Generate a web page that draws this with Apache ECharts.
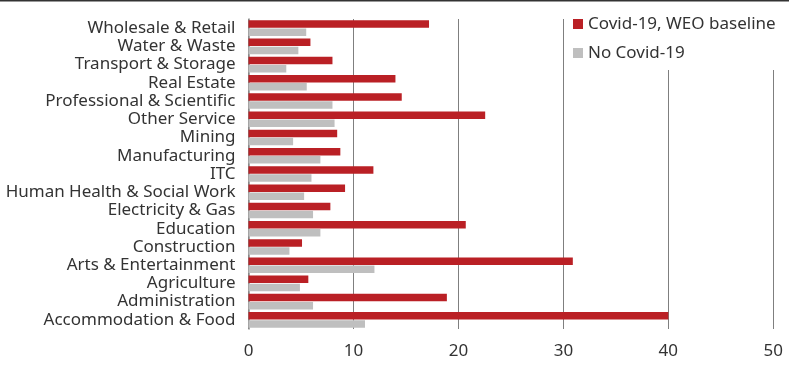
<!DOCTYPE html>
<html>
<head>
<meta charset="utf-8">
<script src="https://cdn.jsdelivr.net/npm/echarts@6/dist/echarts.min.js"></script>
<style>html,body{margin:0;padding:0;background:#fff;}#c{width:789px;height:367px;}</style>
</head>
<body>
<div id="c"></div>
<script>
const categories = ['Accommodation & Food','Administration','Agriculture','Arts & Entertainment','Construction','Education','Electricity & Gas','Human Health & Social Work','ITC','Manufacturing','Mining','Other Service','Professional & Scientific','Real Estate','Transport & Storage','Water & Waste','Wholesale & Retail'];
const covidValues = [40.0, 18.9, 5.7, 30.9, 5.1, 20.7, 7.8, 9.2, 11.9, 8.75, 8.45, 22.55, 14.6, 14.0, 8.0, 5.9, 17.2];
const noCovidValues = [11.1, 6.15, 4.9, 12.0, 3.9, 6.85, 6.15, 5.3, 6.0, 6.85, 4.25, 8.2, 8.0, 5.55, 3.6, 4.75, 5.5];
const xTicks = [0, 10, 20, 30, 40, 50];
const seriesNames = ['Covid-19, WEO baseline', 'No Covid-19'];

const chart = echarts.init(document.getElementById('c'), null, {renderer: 'canvas'});
const font = "'Noto Sans', sans-serif";
chart.setOption({
  animation: false,
  backgroundColor: '#fff',
  textStyle: {fontFamily: font},
  grid: {left: 248.5, right: 15.7, top: 19, bottom: 38, containLabel: false},
  graphic: [{type: 'rect', shape: {x: 0, y: 0, width: 789, height: 1.6}, style: {fill: '#333'}, z: 100}],
  legend: {
    data: seriesNames,
    orient: 'vertical',
    left: 565,
    top: 6,
    padding: [8, 30, 7, 8],
    backgroundColor: '#fff',
    itemWidth: 10,
    itemHeight: 10,
    itemGap: 9,
    icon: 'rect',
    z: 10,
    textStyle: {fontFamily: font, fontSize: 17, color: '#333', lineHeight: 20, padding: [0, 0, 0, 0]}
  },
  xAxis: {
    type: 'value',
    min: xTicks[0],
    max: xTicks[xTicks.length - 1],
    interval: 10,
    axisLine: {show: false},
    axisTick: {show: false},
    splitLine: {show: true, lineStyle: {color: '#7f7f7f', width: 1}},
    axisLabel: {fontFamily: font, fontSize: 17, color: '#333', margin: 14}
  },
  yAxis: {
    type: 'category',
    data: categories,
    axisLine: {show: true, lineStyle: {color: '#8c8c8c', width: 1.5}},
    axisTick: {show: false},
    axisLabel: {fontFamily: font, fontSize: 17, color: '#333', margin: 13, interval: 0}
  },
  series: [
    {name: seriesNames[0], type: 'bar', data: covidValues, barWidth: 7.5, barGap: '8%', itemStyle: {color: '#ba2025'}},
    {name: seriesNames[1], type: 'bar', data: noCovidValues, barWidth: 7.5, barGap: '8%', itemStyle: {color: '#bfbfbf'}}
  ]
});
</script>
</body>
</html>
